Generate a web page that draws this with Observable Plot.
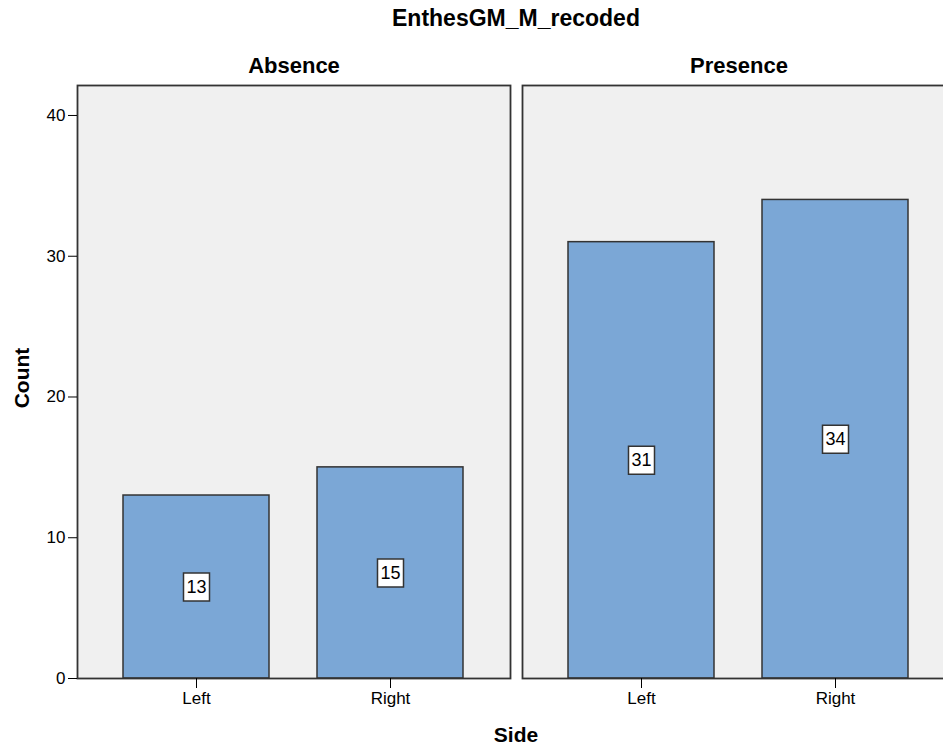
<!DOCTYPE html>
<html>
<head>
<meta charset="utf-8">
<script src="https://cdn.jsdelivr.net/npm/d3@7"></script>
<script src="https://cdn.jsdelivr.net/npm/@observablehq/plot@0.6"></script>
<style>
  html, body { margin: 0; padding: 0; background: #ffffff; overflow: hidden; }
  body { width: 943px; height: 746px; position: relative; font-family: "Liberation Sans", Arial, sans-serif; }
  #chart { position: absolute; left: 0; top: 0; width: 960px; height: 746px; }
  #chart svg { max-width: none !important; width: 960px !important; height: 746px !important; }
  .lbl { position: absolute; font-weight: bold; color: #000; white-space: nowrap; line-height: 1; }
  #title { left: 0; width: 1032px; text-align: center; top: 7px; font-size: 23px; }
  #xlab { left: 0; width: 1032px; text-align: center; top: 724px; font-size: 21px; }
  #ylab { left: 21px; top: 378px; font-size: 21px; transform: translate(-50%, -50%) rotate(-90deg); }
</style>
</head>
<body>
<div id="chart"></div>
<div id="title" class="lbl">EnthesGM_M_recoded</div>
<div id="xlab" class="lbl">Side</div>
<div id="ylab" class="lbl">Count</div>
<script>
// Data
const conditions = ["Absence", "Absence", "Presence", "Presence"];
const sides = ["Left", "Right", "Left", "Right"];
const counts = [13, 15, 31, 34];
const yTicks = [0, 10, 20, 30, 40];

const data = conditions.map((c, i) => ({cond: c, side: sides[i], count: counts[i]}));

const boxSymbol = {draw(ctx) { ctx.rect(-13, -14, 26, 28); }};

const chart = Plot.plot({
  width: 960,
  height: 746,
  marginTop: 85,
  marginBottom: 68,
  marginLeft: 77,
  marginRight: 5,
  style: {fontFamily: "'Liberation Sans', Arial, sans-serif", fontSize: "17px", color: "#000", background: "transparent"},
  fx: {domain: ["Absence", "Presence"], paddingInner: 0.027, paddingOuter: 0, label: null},
  x: {domain: ["Left", "Right"], paddingInner: 0.247, paddingOuter: 0.237, label: null},
  y: {domain: [0, 42.13], label: null},
  marks: [
    Plot.frame({fill: "#f0f0f0"}),
    Plot.barY(data, {fx: "cond", x: "side", y: "count", fill: "#7ba7d6", stroke: "#333333", strokeWidth: 1.5}),
    Plot.dot(data, {fx: "cond", x: "side", y: d => d.count / 2, symbol: boxSymbol, fill: "#ffffff", stroke: "#333333", strokeWidth: 1.5}),
    Plot.text(data, {fx: "cond", x: "side", y: d => d.count / 2, text: d => String(d.count), fontSize: 18, fill: "#000"}),
    Plot.frame({stroke: "#333333", strokeWidth: 1.8}),
    Plot.axisFx({anchor: "top", tickSize: 0, tickPadding: 13, fontSize: 22, fontWeight: "bold", label: null}),
    Plot.axisX({anchor: "bottom", tickSize: 10, tickPadding: 3, fontSize: 17, label: null}),
    Plot.axisY({anchor: "left", ticks: yTicks, tickSize: 9, tickPadding: 3, fontSize: 17, label: null})
  ]
});
document.getElementById("chart").appendChild(chart);
</script>
</body>
</html>
